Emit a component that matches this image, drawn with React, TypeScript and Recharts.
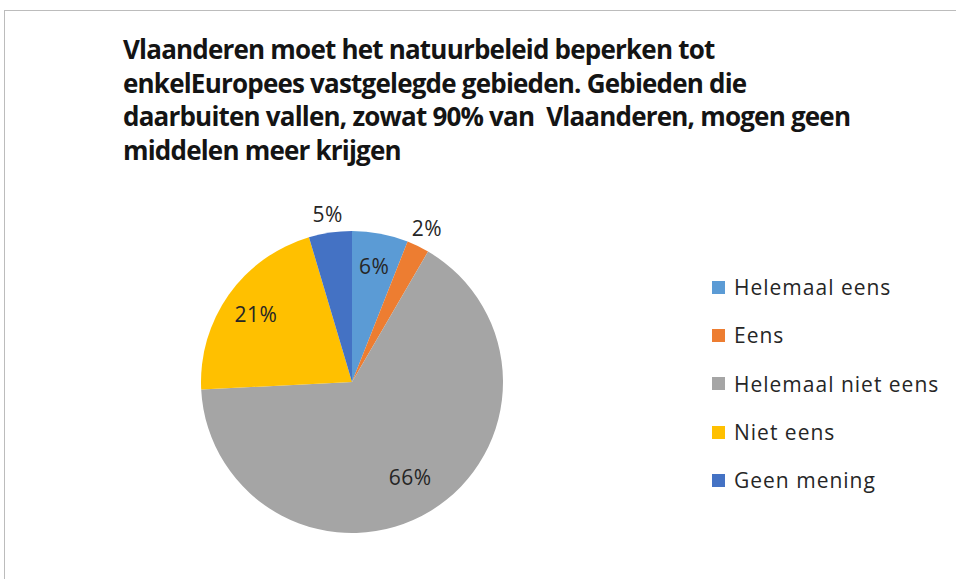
import { PieChart, Pie, Cell, Legend } from "recharts";

const categories = ["Helemaal eens", "Eens", "Helemaal niet eens", "Niet eens", "Geen mening"];
const shares = [6, 2.4, 65.8, 21.2, 4.6];
const colors = ["#5B9BD5", "#ED7D31", "#A5A5A5", "#FFC000", "#4472C4"];
const titleLines = [
  "Vlaanderen moet het natuurbeleid beperken tot",
  "enkelEuropees vastgelegde gebieden. Gebieden die",
  "daarbuiten vallen, zowat 90% van  Vlaanderen, mogen geen",
  "middelen meer krijgen",
];

const data = categories.map((name, i) => ({ name, value: shares[i] }));

const RADIAN = Math.PI / 180;

function renderLabel(props: any) {
  const { cx, cy, midAngle, outerRadius, value } = props;
  const text = `${Math.round(value)}%`;
  const sin = Math.sin(-midAngle * RADIAN);
  const cos = Math.cos(-midAngle * RADIAN);
  let r: number;
  if (value >= 6) {
    r = outerRadius * (value > 50 ? 0.74 : 0.78);
  } else {
    const w = text.length * 11;
    const h = 22;
    r = outerRadius + 6 + Math.abs(cos) * w / 2 + Math.abs(sin) * h / 2;
  }
  const x = cx + r * cos;
  const y = cy + r * sin;
  return (
    <text
      x={x}
      y={y}
      textAnchor="middle"
      dominantBaseline="central"
      fill="#262626"
      fontSize={21}
      fontFamily="'Open Sans', sans-serif"
      letterSpacing={0.5}
    >
      {text}
    </text>
  );
}

function LegendContent() {
  return (
    <div style={{ fontFamily: "'Open Sans', sans-serif", fontSize: 21, color: "#262626", letterSpacing: 1 }}>
      {categories.map((c, i) => (
        <div key={c} style={{ display: "flex", alignItems: "center", height: 48.3 }}>
          <span style={{ width: 13, height: 13, background: colors[i], marginRight: 9, display: "inline-block" }} />
          <span>{c}</span>
        </div>
      ))}
    </div>
  );
}

export default function App() {
  return (
    <div style={{ position: "absolute", left: 0, top: 0, width: 956, height: 579, background: "#fff", overflow: "hidden" }}>
      <div
        style={{
          position: "absolute",
          left: 4,
          top: 10,
          width: 1000,
          height: 700,
          border: "1.5px solid #bcbcbc",
        }}
      />
      <div
        style={{
          position: "absolute",
          left: 123,
          top: 33,
          fontFamily: "'Open Sans', sans-serif",
          fontWeight: "bold",
          fontSize: 26,
          letterSpacing: -0.8,
          lineHeight: "33.5px",
          color: "#141414",
          whiteSpace: "pre",
        }}
      >
        {titleLines.map((l) => (
          <div key={l}>{l}</div>
        ))}
      </div>
      <div style={{ position: "absolute", left: 0, top: 0 }}>
        <PieChart width={956} height={579} margin={{ top: 0, right: 0, bottom: 0, left: 0 }}>
          <Pie
            data={data}
            dataKey="value"
            nameKey="name"
            cx={352}
            cy={382}
            outerRadius={151}
            startAngle={90}
            endAngle={-270}
            stroke="none"
            label={renderLabel}
            labelLine={false}
            isAnimationActive={false}
          >
            {data.map((d, i) => (
              <Cell key={d.name} fill={colors[i]} />
            ))}
          </Pie>
          <Legend
            content={<LegendContent />}
            wrapperStyle={{ position: "absolute", left: 712, top: 263, width: 240 }}
          />
        </PieChart>
      </div>
    </div>
  );
}
